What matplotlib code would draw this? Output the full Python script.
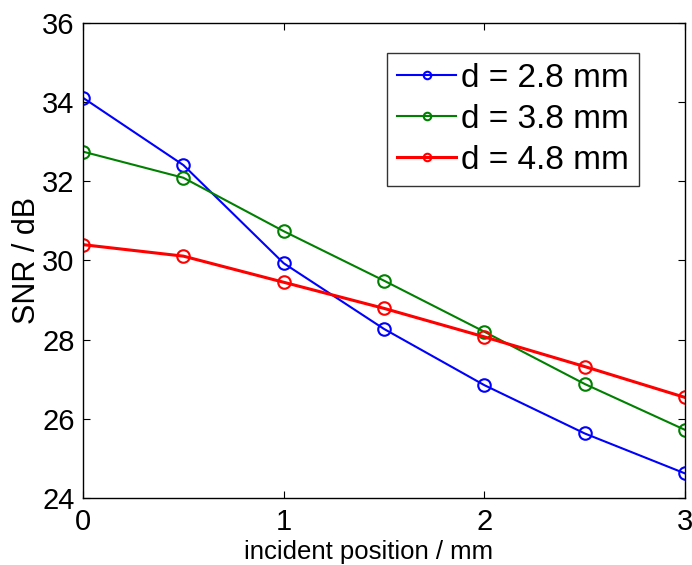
import matplotlib
matplotlib.use('Agg')
import matplotlib.pyplot as plt
import numpy as np

plt.rcParams['font.family'] = ['Liberation Sans', 'DejaVu Sans']

# data
positions = [0, 0.5, 1, 1.5, 2, 2.5, 3]
snr_28 = [34.11, 32.41, 29.93, 28.27, 26.85, 25.63, 24.62]
snr_38 = [32.75, 32.09, 30.74, 29.49, 28.20, 26.88, 25.72]
snr_48 = [30.40, 30.11, 29.45, 28.79, 28.07, 27.32, 26.54]
labels = ['d = 2.8 mm', 'd = 3.8 mm', 'd = 4.8 mm']
colors = ['#0000ff', '#008000', '#ff0000']
widths = [1.5, 1.5, 2.2]

fig = plt.figure(figsize=(6.92, 5.65), dpi=100)
ax = fig.add_axes([0.12, 0.1186, 0.87, 0.8407])

for ys, lab, c, lw in zip([snr_28, snr_38, snr_48], labels, colors, widths):
	ax.plot(positions, ys, '-o', color=c, lw=lw, ms=9, mfc='none', mew=1.5, label=lab)

ax.set_xlim(0, 3)
ax.set_ylim(24, 36)
ax.set_xticks([0, 1, 2, 3])
ax.set_yticks(np.arange(24, 37, 2))
ax.tick_params(direction='in', top=True, right=True, length=5, width=0.8, labelsize=21)
ax.tick_params(axis='x', pad=7)
ax.tick_params(axis='y', pad=6)
for s in ax.spines.values():
	s.set_linewidth(1.0)

ax.set_xlabel('incident position / mm', fontsize=18.5)
ax.xaxis.set_label_coords(0.475, -0.088)
ax.set_ylabel('SNR / dB', fontsize=22)
ax.yaxis.set_label_coords(-0.068, 0.5)

leg = ax.legend(loc='upper left', bbox_to_anchor=(0.505, 0.937), borderaxespad=0, fontsize=24,
	frameon=True, fancybox=False, edgecolor='black', handlelength=1.77, handletextpad=0.15,
	borderpad=0.3, labelspacing=0.3, markerscale=0.6)
leg.get_frame().set_linewidth(1.0)

fig.savefig('out.png', dpi=100)
